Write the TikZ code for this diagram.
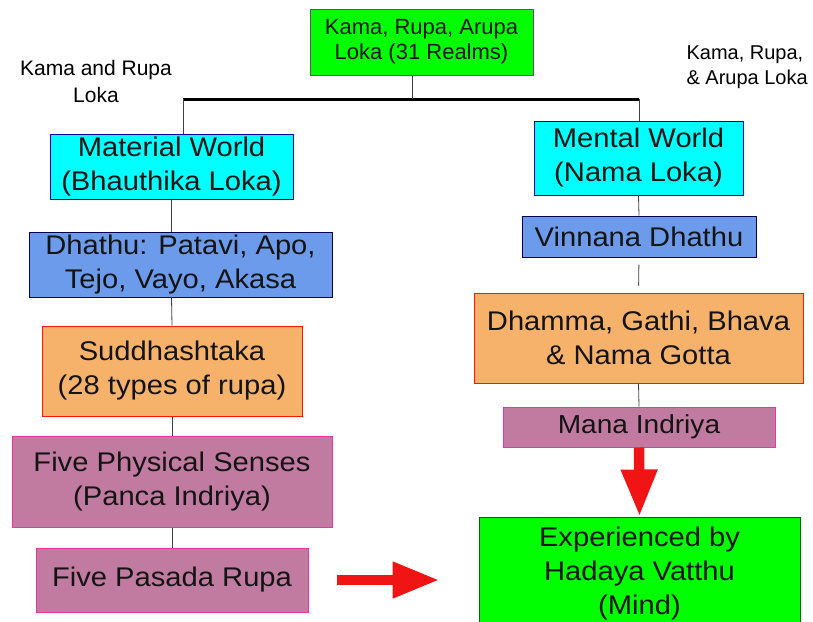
\documentclass[tikz,border=0pt]{standalone}
\usepackage{fontspec}
\setmainfont{Liberation Sans}
\newfontfamily\boxfont[FakeStretch=1.08]{Liberation Sans}
\usetikzlibrary{arrows.meta}
\definecolor{realmgreen}{RGB}{0,255,0}
\definecolor{worldcyan}{RGB}{0,255,255}
\definecolor{dhathublue}{RGB}{108,155,236}
\definecolor{rupaorange}{RGB}{246,178,107}
\definecolor{indriyamauve}{RGB}{194,123,160}
\definecolor{arrowred}{RGB}{240,20,20}
\begin{document}
\begin{tikzpicture}[x=1pt,y=-1pt,
    box/.style={draw,line width=1pt,align=center,inner sep=0pt,text=black!92,
      font=\boxfont\fontsize{27}{34}\selectfont},
    realm/.style={box,fill=realmgreen,draw=black!65},
    world/.style={box,fill=worldcyan,draw=blue!70!black},
    dhathu/.style={box,fill=dhathublue,draw=blue!30!black},
    rupa/.style={box,fill=rupaorange,draw=red!80!orange},
    indriya/.style={box,fill=indriyamauve,draw=magenta!80!white},
    link/.style={draw=black!75,line width=0.8pt},
    bigarrow/.style={draw=arrowred,line width=10.5pt,-{Triangle[width=34pt,length=47pt]}},
    loka/.style={align=center,font=\fontsize{21}{27}\selectfont}]
  \clip (0,0) rectangle (813,621);
  % top of the tree
  \node[realm,font=\fontsize{22}{25}\selectfont,minimum width=223pt,minimum height=66pt]
    (realms) at (421.5,42) {Kama, Rupa, Arupa\\Loka (31 Realms)};
  \node[loka] (kamarupa) at (96,81) {Kama and Rupa\\Loka};
  \node[loka,align=left,anchor=west,font=\fontsize{20}{25}\selectfont]
    (kamarupaarupa) at (683,67.5) {Kama, Rupa,\\\& Arupa Loka};
  % material side
  \node[world,minimum width=243pt,minimum height=65pt] (material) at (171.5,166.5)
    {Material World\\(Bhauthika Loka)};
  \node[dhathu,minimum width=303pt,minimum height=65pt] (dhathu) at (180.5,264.5)
    {Dhathu: Patavi, Apo,\\Tejo, Vayo, Akasa};
  \node[rupa,minimum width=260pt,minimum height=90pt] (suddh) at (172,371)
    {Suddhashtaka\\(28 types of rupa)};
  \node[indriya,minimum width=320pt,minimum height=91pt] (senses) at (172,481.5)
    {Five Physical Senses\\(Panca Indriya)};
  \node[indriya,minimum width=272pt,minimum height=64pt] (pasada) at (172,580)
    {Five Pasada Rupa};
  % mental side
  \node[world,minimum width=209pt,minimum height=74pt] (mental) at (638.5,158)
    {Mental World\\(Nama Loka)};
  \node[dhathu,minimum width=234pt,minimum height=41pt] (vinnana) at (639,236.5)
    {Vinnana Dhathu};
  \node[rupa,minimum width=329pt,minimum height=90pt] (dhamma) at (638.5,338)
    {Dhamma, Gathi, Bhava\\\& Nama Gotta};
  \node[indriya,font=\boxfont\fontsize{26}{30}\selectfont,minimum width=272pt,minimum height=40pt]
    (mana) at (639,427) {Mana Indriya};
  \node[realm,draw=green!40!black,minimum width=321pt,minimum height=114pt] (mind) at (639.5,574)
    {Experienced by\\Hadaya Vatthu\\(Mind)};
  % branching
  \coordinate (hl) at (183,99);
  \coordinate (hm) at (412,99);
  \coordinate (hr) at (639,99);
  \draw[line width=3pt] (hl) -- (hr);
  \draw[link] (realms.south -| hm) -- (hm);
  \draw[link] (hl) -- (material.north -| hl);
  \draw[link] (hr) -- (mental.north -| hr);
  % left chain
  \draw[link] (material.south) -- (material.south |- dhathu.north);
  \draw[link] (dhathu.south -| material.south) -- (suddh.north);
  \draw[link] (suddh.south) -- (senses.north);
  \draw[link] (senses.south) -- (pasada.north);
  % right chain
  \draw[link] (mental.south) -- (vinnana.north);
  \draw[link,shorten <=7pt,shorten >=7pt] (vinnana.south) -- (dhamma.north);
  \draw[link] (dhamma.south) -- (mana.north);
  % red arrows
  \draw[bigarrow] (mana.south) -- (mind.north);
  \draw[bigarrow,shorten <=28pt,shorten >=39pt] (pasada.east) -- (pasada.east -| mind.west);
\end{tikzpicture}
\end{document}
